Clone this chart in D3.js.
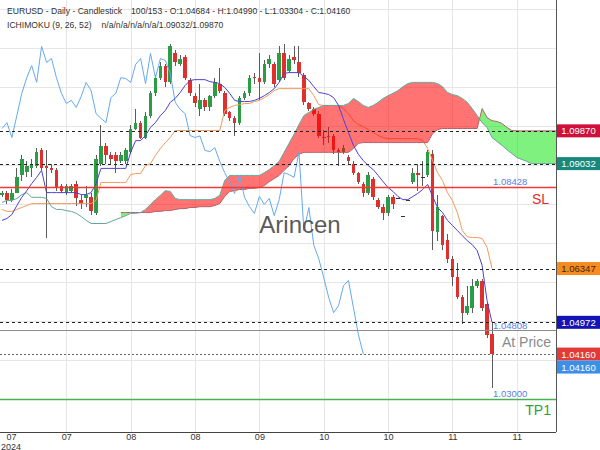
<!DOCTYPE html>
<html>
<head>
<meta charset="utf-8">
<script src="https://cdn.jsdelivr.net/npm/d3@7"></script>
<style>
  body { margin: 0; background: #fff; }
  svg { display: block; font-family: "Liberation Sans", Arial, sans-serif; }
</style>
</head>
<body>
<div id="chart"></div>
<script>
// EURUSD daily candles (100 bars) + Ichimoku (9, 26, 52)

const openP = [
  1.0822, 1.0827, 1.0811, 1.0829, 1.0873, 1.0883, 1.0893, 1.0898, 1.0937, 1.0896,
  1.0893, 1.0886, 1.0845, 1.0829, 1.0834, 1.0850, 1.0809, 1.0814, 1.0817, 1.0778,
  1.0903, 1.0947, 1.0924, 1.0924, 1.0911, 1.0909, 1.0932, 1.0993, 1.1008, 1.0970,
  1.1026, 1.1083, 1.1123, 1.1152, 1.1111, 1.1185, 1.1159, 1.1175, 1.1118, 1.1077,
  1.1044, 1.1065, 1.1047, 1.1077, 1.1108, 1.1085, 1.1034, 1.1019, 1.1008, 1.1072,
  1.1085, 1.1126, 1.1121, 1.1111, 1.1157, 1.1157, 1.1118, 1.1185, 1.1141, 1.1175,
  1.1164, 1.1129, 1.1057, 1.1042, 1.1031, 1.0971, 1.0973, 1.0973, 1.0939, 1.0932,
  1.0919, 1.0903, 1.0878, 1.0852, 1.0829, 1.0865, 1.0809, 1.0793, 1.0776, 1.0819,
  1.0814, 1.0770, 1.0811, 1.0855, 1.0878, 1.0868, 1.0873, 1.0929, 1.0727, 1.0768,
  1.0709, 1.0660, 1.0612, 1.0561, 1.0522, 1.0535, 1.0591, 1.0604, 1.0543, 1.04684
];
const highP = [
  1.0834, 1.0832, 1.0837, 1.0893, 1.0924, 1.0911, 1.0916, 1.0944, 1.0942, 1.0937,
  1.0901, 1.0891, 1.0852, 1.0852, 1.0852, 1.0860, 1.0822, 1.0845, 1.0827, 1.0924,
  1.1001, 1.0955, 1.0932, 1.0932, 1.0932, 1.0942, 1.1001, 1.1044, 1.1013, 1.1034,
  1.1090, 1.1131, 1.1162, 1.1157, 1.1208, 1.1193, 1.1180, 1.1180, 1.1123, 1.1083,
  1.1108, 1.1070, 1.1080, 1.1123, 1.1149, 1.1090, 1.1039, 1.1024, 1.1077, 1.1090,
  1.1131, 1.1136, 1.1185, 1.1167, 1.1180, 1.1162, 1.1205, 1.1208, 1.1180, 1.1205,
  1.1205, 1.1134, 1.1062, 1.1047, 1.1037, 1.0988, 1.0996, 1.0978, 1.0944, 1.0950,
  1.0924, 1.0909, 1.0883, 1.0857, 1.0883, 1.0870, 1.0814, 1.0799, 1.0824, 1.0824,
  1.0814, 1.0770, 1.0811, 1.0891, 1.0901, 1.0911, 1.0937, 1.0937, 1.0822, 1.0773,
  1.0724, 1.0666, 1.0648, 1.0566, 1.0591, 1.0609, 1.0609, 1.0609, 1.0548, 1.04990
];
const lowP = [
  1.0817, 1.0801, 1.0806, 1.0827, 1.0860, 1.0868, 1.0868, 1.0893, 1.0886, 1.0712,
  1.0878, 1.0834, 1.0827, 1.0824, 1.0829, 1.0796, 1.0788, 1.0791, 1.0773, 1.0773,
  1.0898, 1.0903, 1.0901, 1.0878, 1.0906, 1.0903, 1.0927, 1.0988, 1.0965, 1.0965,
  1.1021, 1.1077, 1.1118, 1.1100, 1.1106, 1.1154, 1.1152, 1.1116, 1.1075, 1.1049,
  1.1026, 1.1039, 1.1039, 1.1072, 1.1085, 1.1026, 1.1013, 1.0975, 1.1003, 1.1065,
  1.1077, 1.1108, 1.1065, 1.1106, 1.1149, 1.1100, 1.1113, 1.1116, 1.1134, 1.1159,
  1.1126, 1.1054, 1.1037, 1.1024, 1.0970, 1.0950, 1.0957, 1.0929, 1.0896, 1.0927,
  1.0903, 1.0875, 1.0850, 1.0817, 1.0824, 1.0811, 1.0788, 1.0758, 1.0770, 1.0788,
  1.0814, 1.0770, 1.0811, 1.0850, 1.0834, 1.0847, 1.0868, 1.0681, 1.0706, 1.0683,
  1.0650, 1.0591, 1.0556, 1.0494, 1.0517, 1.0522, 1.0584, 1.0527, 1.0458, 1.03304
];
const closeP = [
  1.0829, 1.0811, 1.0829, 1.0870, 1.0916, 1.0896, 1.0901, 1.0934, 1.0893, 1.0891,
  1.0886, 1.0842, 1.0832, 1.0845, 1.0847, 1.0814, 1.0801, 1.0822, 1.0783, 1.0916,
  1.0947, 1.0924, 1.0916, 1.0911, 1.0924, 1.0937, 1.0993, 1.1008, 1.0970, 1.1026,
  1.1083, 1.1123, 1.1154, 1.1111, 1.1203, 1.1162, 1.1172, 1.1123, 1.1083, 1.1057,
  1.1065, 1.1047, 1.1075, 1.1111, 1.1090, 1.1031, 1.1019, 1.1008, 1.1072, 1.1083,
  1.1123, 1.1121, 1.1111, 1.1157, 1.1172, 1.1108, 1.1185, 1.1123, 1.1172, 1.1167,
  1.1134, 1.1060, 1.1042, 1.1031, 1.0975, 1.0970, 1.0974, 1.0937, 1.0934, 1.0944,
  1.0909, 1.0880, 1.0855, 1.0827, 1.0873, 1.0817, 1.0793, 1.0776, 1.0819, 1.0799,
  1.0814, 1.0770, 1.0811, 1.0880, 1.0875, 1.0868, 1.0932, 1.0732, 1.0791, 1.0694,
  1.0660, 1.0612, 1.0561, 1.0522, 1.0540, 1.0591, 1.0604, 1.0535, 1.0466, 1.04160
];

// conversion line (9)
const tenkan = [
  1.0758, 1.0763, 1.0773, 1.0796, 1.0817, 1.0834, 1.0852, 1.0868, 1.0886, 1.0829,
  1.0829, 1.0829, 1.0829, 1.0829, 1.0829, 1.0829, 1.0824, 1.0824, 1.0829, 1.0852,
  1.0891, 1.0891, 1.0891, 1.0891, 1.0891, 1.0891, 1.0932, 1.0962, 1.0962, 1.0975,
  1.0996, 1.1008, 1.1026, 1.1039, 1.1060, 1.1070, 1.1085, 1.1103, 1.1116, 1.1118,
  1.1118, 1.1118, 1.1113, 1.1111, 1.1108, 1.1098, 1.1083, 1.1065, 1.1062, 1.1062,
  1.1062, 1.1065, 1.1070, 1.1077, 1.1085, 1.1095, 1.1111, 1.1134, 1.1136, 1.1136,
  1.1136, 1.1126, 1.1116, 1.1100, 1.1085, 1.1083, 1.1080, 1.1072, 1.1052, 1.1016,
  1.0983, 1.0950, 1.0927, 1.0911, 1.0898, 1.0888, 1.0873, 1.0857, 1.0842, 1.0832,
  1.0819, 1.0811, 1.0811, 1.0819, 1.0827, 1.0837, 1.0850, 1.0819, 1.0791, 1.0778,
  1.0758, 1.0745, 1.0732, 1.0719, 1.0706, 1.0696, 1.0681, 1.0643, 1.0553, 1.04972
];
// base line (26)
const kijun = [
  1.0786, 1.0781, 1.0781, 1.0786, 1.0791, 1.0796, 1.0801, 1.0801, 1.0801, 1.0801,
  1.0801, 1.0801, 1.0801, 1.0801, 1.0801, 1.0801, 1.0801, 1.0801, 1.0801, 1.0809,
  1.0855, 1.0855, 1.0855, 1.0855, 1.0855, 1.0855, 1.0875, 1.0878, 1.0878, 1.0898,
  1.0903, 1.0924, 1.0942, 1.0957, 1.0970, 1.0988, 1.0988, 1.0988, 1.0988, 1.0988,
  1.0988, 1.0988, 1.0988, 1.0988, 1.0988, 1.1039, 1.1047, 1.1052, 1.1054, 1.1057,
  1.1057, 1.1062, 1.1065, 1.1072, 1.1080, 1.1090, 1.1095, 1.1095, 1.1095, 1.1095,
  1.1095, 1.1095, 1.1095, 1.1077, 1.1054, 1.1052, 1.1052, 1.1052, 1.1052, 1.1044,
  1.1031, 1.1013, 1.1003, 1.0998, 1.0990, 1.0983, 1.0975, 1.0970, 1.0967, 1.0967,
  1.0967, 1.0967, 1.0967, 1.0967, 1.0967, 1.0962, 1.0942, 1.0911, 1.0880, 1.0860,
  1.0829, 1.0809, 1.0778, 1.0732, 1.0716, 1.0714, 1.0714, 1.0712, 1.0689, 1.06347
];
// leading spans, shifted 26 bars ahead (113 slots)
const spanA = [
  1.0804, 1.0809, 1.0809, 1.0814, 1.0824, 1.0829, 1.0817, 1.0817, 1.0817, 1.0814,
  1.0793, 1.0786, 1.0786, 1.0783, 1.0781, 1.0776, 1.0768, 1.0758, 1.0750, 1.0750,
  1.0750, 1.0750, 1.0755, 1.0760, 1.0765, 1.0770, 1.0776, 1.0776, 1.0778, 1.0786,
  1.0799, 1.0811, 1.0822, 1.0834, 1.0832, 1.0814, 1.0811, 1.0811, 1.0811, 1.0811,
  1.0811, 1.0811, 1.0811, 1.0814, 1.0822, 1.0860, 1.0873, 1.0873, 1.0873, 1.0873,
  1.0873, 1.0873, 1.0873, 1.0880, 1.0888, 1.0898, 1.0909, 1.0932, 1.0955, 1.0978,
  1.1003, 1.1026, 1.1034, 1.1042, 1.1047, 1.1052, 1.1052, 1.1052, 1.1052, 1.1052,
  1.1057, 1.1070, 1.1062, 1.1052, 1.1047, 1.1052, 1.1060, 1.1070, 1.1077, 1.1083,
  1.1090, 1.1100, 1.1108, 1.1111, 1.1111, 1.1111, 1.1111, 1.1111, 1.1108, 1.1100,
  1.1085, 1.1080, 1.1077, 1.1070, 1.1060, 1.1044, 1.1026, 1.1008, 1.0996, 1.0970,
  1.0960, 1.0950, 1.0939, 1.0929, 1.0919, 1.0914, 1.0909, 1.0903, 1.09032, 1.09032,
  1.09032, 1.09032, 1.09032
];
const spanB = [
  null, null, null, null, null, null, null, null, null, null,
  null, null, null, null, null, null, null, null, null, null,
  null, null, null, null, 1.0778, 1.0778, 1.0778, 1.0778, 1.0778, 1.0778,
  1.0778, 1.0781, 1.0781, 1.0783, 1.0783, 1.0786, 1.0788, 1.0788, 1.0791, 1.0791,
  1.0793, 1.0793, 1.0793, 1.0796, 1.0801, 1.0819, 1.0832, 1.0834, 1.0837, 1.0837,
  1.0840, 1.0840, 1.0842, 1.0847, 1.0857, 1.0865, 1.0873, 1.0886, 1.0898, 1.0916,
  1.0927, 1.0932, 1.0932, 1.0932, 1.0932, 1.0932, 1.0932, 1.0932, 1.0932, 1.0932,
  1.0932, 1.0942, 1.0955, 1.0957, 1.0957, 1.0957, 1.0957, 1.0957, 1.0957, 1.0957,
  1.0957, 1.0957, 1.0957, 1.0957, 1.0957, 1.0957, 1.0957, 1.0980, 1.0990, 1.0993,
  1.0993, 1.0993, 1.0993, 1.0993, 1.0993, 1.0993, 1.0993, 1.1044, 1.1021, 1.1013,
  1.1011, 1.1006, 1.0996, 1.0988, 1.09870, 1.09870, 1.09870, 1.09870, 1.09870, 1.09870,
  1.09870, 1.09870, 1.09870
];
const chikouShift = 26;

const tickIdx = [1.8, 13, 26, 39, 52, 65, 78, 91, 104];
const tickLabels = ["07", "07", "08", "08", "09", "10", "10", "11", "11"];
const tickYear = "2024";
const priceTicks = [1.02, 1.03, 1.04, 1.05, 1.06, 1.07, 1.08, 1.09, 1.10, 1.11, 1.12, 1.13];

// horizontal levels
const spanBLast = 1.09870;
const spanALast = 1.09032;
const kijunLast = 1.06347;
const tenkanLast = 1.04972;
const lastClose = 1.04160;
const slLevel = 1.08428;
const atPriceLevel = 1.04763;
const tenkanMark = 1.04808;
const tpLevel = 1.03000;

const W = 600, H = 450;
const plotR = 556, plotB = 432;

const x = d3.scaleLinear().domain([0, closeP.length - 1]).range([2, 492]);
const y = d3.scaleLinear().domain([1.02, 1.13]).range([438.5, 8.5]);
const fmt = d3.format(".5f");

const svg = d3.select("#chart").append("svg")
  .attr("width", W)
  .attr("height", H);

const defs = svg.append("defs");
defs.append("clipPath").attr("id", "plot-clip")
  .append("rect").attr("x", 0).attr("y", 0).attr("width", plotR).attr("height", plotB);
defs.append("clipPath").attr("id", "axis-clip")
  .append("rect").attr("x", plotR).attr("y", 0).attr("width", W - plotR).attr("height", plotB + 1);

svg.append("rect").attr("width", W).attr("height", H).attr("fill", "#fff");

// grid
const grid = svg.append("g").attr("clip-path", "url(#plot-clip)");
grid.selectAll(".hgrid")
  .data(priceTicks)
  .join("line")
  .attr("x1", 0).attr("x2", plotR)
  .attr("y1", d => Math.round(y(d)) + 0.5).attr("y2", d => Math.round(y(d)) + 0.5)
  .attr("stroke", "#e6e6e6");
grid.selectAll(".vgrid")
  .data(tickIdx.slice(1))
  .join("line")
  .attr("x1", d => Math.round(x(d)) + 0.5).attr("x2", d => Math.round(x(d)) + 0.5)
  .attr("y1", 0).attr("y2", plotB)
  .attr("stroke", "#e6e6e6");

const plot = svg.append("g").attr("clip-path", "url(#plot-clip)");

// candles
const bars = d3.range(closeP.length);
const bodyW = 3.6;
const candle = plot.append("g").attr("shape-rendering", "crispEdges");
candle.selectAll(".wick")
  .data(bars.filter(i => highP[i] !== lowP[i]))
  .join("line")
  .attr("x1", i => x(i)).attr("x2", i => x(i))
  .attr("y1", i => y(highP[i])).attr("y2", i => y(lowP[i]))
  .attr("stroke", "#5c5c5c")
  .attr("stroke-width", 1);
candle.selectAll(".body")
  .data(bars)
  .join("rect")
  .attr("x", i => x(i) - bodyW / 2)
  .attr("width", bodyW)
  .attr("y", i => Math.min(y(openP[i]), y(closeP[i])))
  .attr("height", i => Math.max(1, Math.abs(y(openP[i]) - y(closeP[i]))))
  .attr("fill", i => {
    if (Math.abs(closeP[i] - openP[i]) < 0.00005) return "#333";
    return closeP[i] > openP[i] ? "#2a9d45" : "#e0302d";
  });

// kijun (under the cloud)
const line = d3.line().defined(d => d.v != null).x(d => x(d.i)).y(d => y(d.v));
plot.append("path")
  .attr("d", line(kijun.map((v, i) => ({ i, v }))))
  .attr("fill", "none").attr("stroke", "#f49a5c").attr("stroke-width", 1);

// cloud: red where span A is above span B, green otherwise
const cloudIdx = d3.range(spanA.length).filter(i => spanB[i] != null);
defs.append("clipPath").attr("id", "below-a")
  .append("path")
  .attr("d", d3.area().x(i => x(i)).y0(i => y(spanA[i])).y1(plotB)(cloudIdx));
defs.append("clipPath").attr("id", "above-a")
  .append("path")
  .attr("d", d3.area().x(i => x(i)).y0(0).y1(i => y(spanA[i]))(cloudIdx));
const between = d3.area().x(i => x(i)).y0(i => y(spanA[i])).y1(i => y(spanB[i]));
plot.append("g").attr("clip-path", "url(#below-a)")
  .append("path").attr("d", between(cloudIdx)).attr("fill", "rgba(255,0,0,0.55)");
plot.append("g").attr("clip-path", "url(#above-a)")
  .append("path").attr("d", between(cloudIdx)).attr("fill", "rgba(0,228,0,0.5)");

plot.append("path")
  .attr("d", line(spanB.map((v, i) => ({ i, v }))))
  .attr("fill", "none").attr("stroke", "#b8606a").attr("stroke-width", 1);
plot.append("path")
  .attr("d", line(spanA.map((v, i) => ({ i, v }))))
  .attr("fill", "none").attr("stroke", "#62a69c").attr("stroke-width", 1);

// lagging span: closes drawn 26 bars back
const chikou = closeP.map((v, i) => ({ i: i - chikouShift, v })).filter(d => d.i >= 0);
plot.append("path")
  .attr("d", line(chikou))
  .attr("fill", "none").attr("stroke", "#64aaf0").attr("stroke-width", 1);

plot.append("path")
  .attr("d", line(tenkan.map((v, i) => ({ i, v }))))
  .attr("fill", "none").attr("stroke", "#4c42d2").attr("stroke-width", 1);

// level lines
const levels = plot.append("g");
function hline(v, stroke, dash, width) {
  const yy = Math.round(y(v)) + 0.5;
  levels.append("line")
    .attr("x1", 0).attr("x2", plotR).attr("y1", yy).attr("y2", yy)
    .attr("stroke", stroke).attr("stroke-width", width || 1)
    .attr("stroke-dasharray", dash || null);
}
hline(spanBLast, "#222", "3,3");
hline(spanALast, "#222", "3,3");
hline(kijunLast, "#222", "3,3");
hline(tenkanLast, "#222", "3,3");
hline(lastClose, "#666", "2,2");
hline(slLevel, "#f03a36", null, 1.4);
hline(atPriceLevel, "#8c8c8c");
hline(tpLevel, "#4cb050", null, 1.5);

const notes = svg.append("g");
function note(txt, v, color, size, anchor, xpos, dy) {
  notes.append("text")
    .attr("x", xpos).attr("y", y(v) + dy)
    .attr("text-anchor", anchor)
    .attr("font-size", size).attr("fill", color)
    .text(txt);
}
note(fmt(slLevel), slLevel, "#5b7ee8", 9.5, "start", x(closeP.length - 1) + 1, -2);
note("SL", slLevel, "#e02a2a", 14, "end", 549, 17);
note(fmt(tenkanMark), tenkanMark, "#5b7ee8", 9.5, "start", x(closeP.length - 1) + 1, 0);
note("At Price", atPriceLevel, "#8a8a8a", 14, "end", 551, 17);
note(fmt(tpLevel), tpLevel, "#5b7ee8", 9.5, "start", x(closeP.length - 1) + 1, -2);
note("TP1", tpLevel, "#2f9e3a", 14, "end", 551, 16);

// watermark
svg.append("text")
  .attr("x", 300).attr("y", 233)
  .attr("text-anchor", "middle")
  .attr("font-size", 24)
  .attr("fill", "#5a5a5a")
  .text("Arincen");

// price boxes on the right axis
const boxes = [
  { v: spanBLast, off: 0, fill: "#d0103c", color: "#fff" },
  { v: spanALast, off: 0, fill: "#17897c", color: "#fff" },
  { v: kijunLast, off: 0, fill: "#f58a1f", color: "#3a2a10" },
  { v: tenkanLast, off: 0, fill: "#1414b4", color: "#fff" },
  { v: lastClose, off: 0, fill: "#e23b37", color: "#fff" },
  { v: lastClose, off: 13, fill: "#3b8fe8", color: "#fff" }
];
const boxH = 13;

// tick labels fully hidden by a price box are not drawn
function hidden(d) {
  const t0 = y(d) - 3.5, t1 = y(d) + 3.5;
  const spans = boxes.map(b => [y(b.v) + b.off - boxH / 2, y(b.v) + b.off + boxH / 2])
    .sort((a, b) => a[0] - b[0]);
  let reach = -Infinity, start = null;
  for (const s of spans) {
    if (start === null || s[0] > reach) { start = s[0]; reach = s[1]; }
    else reach = Math.max(reach, s[1]);
    if (start <= t0 && reach >= t1) return true;
  }
  return false;
}

// axes
const yAxis = svg.append("g")
  .attr("transform", `translate(${plotR},0)`)
  .attr("clip-path", "url(#axis-clip)")
  .call(d3.axisRight(y).tickValues(priceTicks.filter(d => !hidden(d)))
    .tickFormat(fmt).tickSize(0).tickPadding(6));
yAxis.select(".domain").remove();
yAxis.selectAll(".tick")
  .attr("transform", d => `translate(0,${Math.min(y(d), plotB - 1)})`);
yAxis.selectAll("text")
  .attr("font-size", 9.5).attr("fill", "#333")
  .attr("font-family", "Liberation Sans, Arial, sans-serif");

const xAxis = svg.append("g")
  .attr("transform", `translate(0,${plotB})`)
  .call(d3.axisBottom(x).tickValues(tickIdx).tickFormat((d, i) => tickLabels[i]).tickSize(0).tickPadding(2));
xAxis.select(".domain").remove();
xAxis.selectAll("text")
  .attr("font-size", 9).attr("fill", "#333")
  .attr("font-family", "Liberation Sans, Arial, sans-serif");
svg.append("text")
  .attr("x", x(tickIdx[0])).attr("y", 449.5)
  .attr("text-anchor", "middle")
  .attr("font-size", 9).attr("fill", "#333")
  .text(tickYear);

svg.append("line")
  .attr("x1", plotR + 0.5).attr("x2", plotR + 0.5).attr("y1", 0).attr("y2", plotB)
  .attr("stroke", "#555");
svg.append("line")
  .attr("x1", 0).attr("x2", plotR).attr("y1", plotB + 0.5).attr("y2", plotB + 0.5)
  .attr("stroke", "#444");

boxes.forEach(b => {
  const yy = y(b.v) + b.off;
  const g = svg.append("g");
  g.append("rect")
    .attr("x", plotR + 1).attr("y", yy - boxH / 2)
    .attr("width", W - plotR - 1).attr("height", boxH)
    .attr("fill", b.fill);
  g.append("text")
    .attr("x", (plotR + W) / 2 + 0.5).attr("y", yy + 3.5)
    .attr("text-anchor", "middle")
    .attr("font-size", 9.5).attr("fill", b.color)
    .text(fmt(b.v));
});

// header
const head = svg.append("g").attr("font-size", 8.6).attr("fill", "#333");
const t1 = head.append("text").attr("x", 7).attr("y", 14).text("EURUSD - Daily - Candlestick");
head.append("text").attr("x", 7 + t1.node().getComputedTextLength() + 9).attr("y", 14)
  .text(`100/153 - O:${fmt(openP[99])} - H:${fmt(highP[99])} - L:${fmt(lowP[99])} - C:${fmt(closeP[99])}`);
const t2 = head.append("text").attr("x", 7).attr("y", 28).text("ICHIMOKU (9, 26, 52)");
head.append("text").attr("x", 7 + t2.node().getComputedTextLength() + 10).attr("y", 28)
  .text(`n/a/n/a/n/a/n/a/${fmt(spanALast)}/${fmt(spanBLast)}`);
</script>
</body>
</html>
